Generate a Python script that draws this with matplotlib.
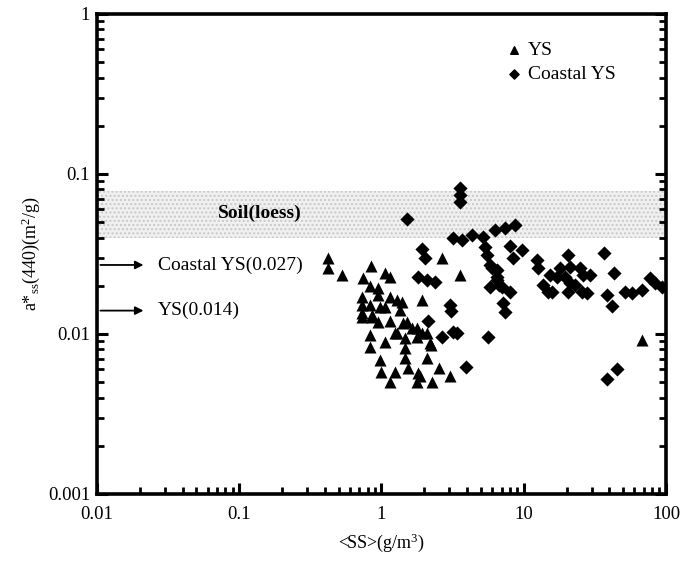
import numpy as np
import matplotlib.pyplot as plt
from matplotlib.ticker import LogLocator, NullFormatter

plt.rcParams['font.family'] = ['Liberation Serif', 'DejaVu Serif']
plt.rcParams['mathtext.fontset'] = 'custom'
plt.rcParams['mathtext.rm'] = 'Liberation Serif'
plt.rcParams['mathtext.it'] = 'Liberation Serif:italic'

# YS (triangles): SS (g/m3), a*ss(440) (m2/g)
ys_ss = [0.42, 0.42, 0.53, 0.85, 0.74, 1.06, 1.15, 0.83, 0.94, 0.73,
         0.94, 1.15, 0.73, 0.83, 0.98, 1.28, 1.39, 1.06, 1.35, 1.93,
         0.73, 0.86, 0.94, 1.15, 1.50, 1.63, 0.83, 0.83, 1.06, 1.28,
         1.46, 1.78, 1.93, 2.19, 1.46, 1.46, 0.98, 2.10, 1.00, 1.24,
         1.53, 1.81, 2.55, 3.03, 1.15, 1.78, 2.26, 2.65, 3.56, 2.22,
         67.8, 0.73, 0.86, 1.41, 1.78, 1.24, 1.87, 2.10]
ys_a = [0.030, 0.026, 0.0234, 0.0266, 0.0225, 0.024, 0.0228, 0.020, 0.0195, 0.017,
        0.0175, 0.017, 0.0152, 0.0152, 0.0148, 0.0163, 0.0159, 0.0148, 0.0141, 0.0163,
        0.0128, 0.0128, 0.0119, 0.0120, 0.0119, 0.0109, 0.0099, 0.0083, 0.0089, 0.0101,
        0.0094, 0.0096, 0.0101, 0.0088, 0.0082, 0.0071, 0.0069, 0.0071, 0.0058, 0.0058,
        0.0061, 0.0057, 0.0061, 0.0055, 0.0050, 0.0050, 0.0050, 0.030, 0.0234, 0.0085,
        0.0092, 0.0135, 0.0132, 0.0117, 0.0109, 0.0101, 0.0055, 0.0101]

# Coastal YS (diamonds)
cys_ss = [1.50, 3.56, 3.56, 3.56, 3.18, 3.70, 4.33, 1.93, 2.03, 1.81,
          2.10, 2.38, 3.03, 3.10, 2.12, 2.65, 3.18, 3.40, 5.60, 3.93,
          5.17, 5.30, 5.50, 6.28, 7.40, 8.70, 5.80, 6.50, 6.50, 5.80,
          7.00, 7.10, 7.40, 6.70, 8.00, 8.00, 9.70, 8.40, 12.4, 12.6,
          6.00, 6.50, 13.6, 14.9, 15.3, 17.1, 19.5, 18.0, 21.0, 24.8,
          20.5, 15.8, 21.0, 22.9, 20.5, 26.0, 29.0, 25.5, 28.0, 36.6,
          43.0, 38.5, 41.7, 51.5, 58.0, 68.0, 77.0, 84.0, 93.0, 45.0,
          38.5]
cys_a = [0.052, 0.082, 0.074, 0.067, 0.040, 0.0385, 0.0415, 0.034, 0.030, 0.0228,
         0.0218, 0.021, 0.0152, 0.0140, 0.0120, 0.0096, 0.0103, 0.0101, 0.0096, 0.0062,
         0.0404, 0.0349, 0.0313, 0.0447, 0.046, 0.048, 0.027, 0.025, 0.0228, 0.0196,
         0.0196, 0.0156, 0.0138, 0.0202, 0.0183, 0.0355, 0.0335, 0.030, 0.029, 0.026,
         0.026, 0.0218, 0.0202, 0.0183, 0.0234, 0.0228, 0.0228, 0.0259, 0.0262, 0.026,
         0.0312, 0.0183, 0.0207, 0.0202, 0.0183, 0.0234, 0.0234, 0.0183, 0.018, 0.0322,
         0.024, 0.0175, 0.015, 0.0183, 0.018, 0.0188, 0.0225, 0.0207, 0.0196, 0.006,
         0.0052]

soil_lo, soil_hi = 0.040, 0.078
coastal_ref = 0.027
ys_ref = 0.014

fig = plt.figure(figsize=(6.89, 5.68), dpi=100)
ax = fig.add_axes([0.1408, 0.1303, 0.8258, 0.8451])

# soil (loess) band
ax.axhspan(soil_lo, soil_hi, facecolor='#f0f0f0', edgecolor='#c8c8c8',
           hatch='....', linewidth=0, zorder=0)
ax.text(0.071, 0.057, 'Soil(loess)', fontsize=14, fontweight='bold',
        va='center', ha='left', zorder=1)

ax.scatter(ys_ss, ys_a, marker='^', s=75, c='black', linewidths=0, zorder=3)
ax.scatter(cys_ss, cys_a, marker='D', s=52, c='black', linewidths=0, zorder=3)

# reference arrows
for yv, lab in [(coastal_ref, 'Coastal YS(0.027)'), (ys_ref, 'YS(0.014)')]:
    ax.annotate('', xy=(0.0222, yv), xytext=(0.0101, yv),
                arrowprops=dict(arrowstyle='-|>', color='black', lw=1.3,
                                mutation_scale=12))
    ax.text(0.0268, yv, lab, fontsize=14, va='center', ha='left')

# legend
ax.scatter([], [], marker='^', s=30, c='black', label='YS')
ax.scatter([], [], marker='D', s=22, c='black', label='Coastal YS')
ax.legend(loc='upper left', bbox_to_anchor=(0.685, 0.98), frameon=False,
          fontsize=14, handletextpad=0.2, labelspacing=0.35, handlelength=1.0)

ax.set_xscale('log')
ax.set_yscale('log')
ax.set_xlim(0.01, 100)
ax.set_ylim(0.001, 1)

ax.set_xticks([0.01, 0.1, 1, 10, 100])
ax.set_xticklabels(['0.01', '0.1', '1', '10', '100'])
ax.set_yticks([0.001, 0.01, 0.1, 1])
ax.set_yticklabels(['0.001', '0.01', '0.1', '1'])
ax.xaxis.set_minor_locator(LogLocator(base=10, subs=np.arange(2, 10)))
ax.yaxis.set_minor_locator(LogLocator(base=10, subs=np.arange(2, 10)))
ax.xaxis.set_minor_formatter(NullFormatter())
ax.yaxis.set_minor_formatter(NullFormatter())

ax.tick_params(which='both', direction='in', left=True, bottom=True,
               right=True, top=False, labelsize=13.5)
ax.tick_params(which='major', length=8, width=2.2)
ax.tick_params(which='minor', length=5, width=2.0)
ax.tick_params(axis='x', pad=9)
ax.tick_params(axis='y', pad=5)

for sp in ax.spines.values():
    sp.set_linewidth(2.6)

ax.set_xlabel(r'<SS>(g/m$^3$)', fontsize=13, labelpad=6)
ax.set_ylabel(r'a*$_{\rm ss}$(440)(m$^2$/g)', fontsize=13, labelpad=4)

fig.savefig('out.png', dpi=100)
